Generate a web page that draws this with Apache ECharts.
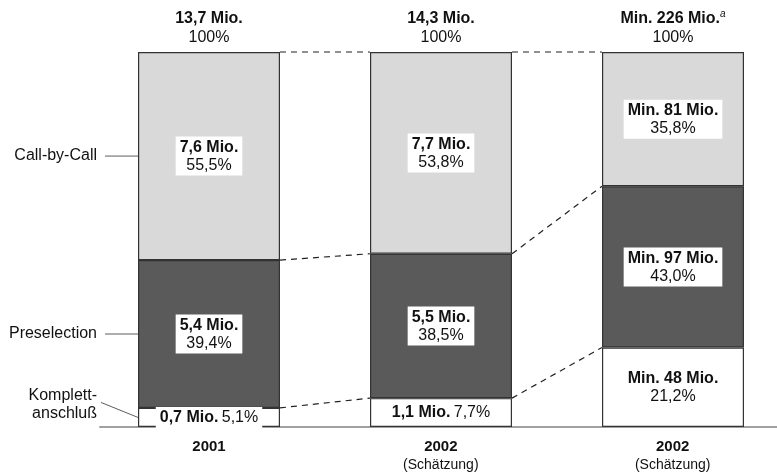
<!DOCTYPE html>
<html>
<head>
<meta charset="utf-8">
<script src="https://cdn.jsdelivr.net/npm/echarts@6/dist/echarts.min.js"></script>
<style>
  html, body { margin: 0; padding: 0; background: #fff; }
  #chart { width: 777px; height: 474px; }
</style>
</head>
<body>
<div id="chart"></div>
<script>
// Anschlussarten im Telefonmarkt: Anteile (%) und absolute Werte (Mio.)
const years = ['2001', '2002', '2002'];
const yearNotes = ['', '(Schätzung)', '(Schätzung)'];
const isMinimum = [false, false, true];

const totalMio = [13.7, 14.3, 226];
const totalFootnote = ['', '', 'a'];

const komplettShare = [5.1, 7.7, 21.2];
const komplettMio = [0.7, 1.1, 48];
const preselShare = [39.4, 38.5, 43.0];
const preselMio = [5.4, 5.5, 97];
const callShare = [55.5, 53.8, 35.8];
const callMio = [7.6, 7.7, 81];

const segmentNames = ['Komplett-\nanschluß', 'Preselection', 'Call-by-Call'];

const FONT = '"Liberation Sans", Arial, Helvetica, sans-serif';
const BAR_W = 142;

function de(v, digits) {
  return v.toFixed(digits).replace('.', ',');
}
function mioText(i, v) {
  return isMinimum[i] ? 'Min. ' + de(v, 0) + ' Mio.' : de(v, 1) + ' Mio.';
}
const slots = years.map((_, i) => i);

const richText = {
  b: { fontFamily: FONT, fontWeight: 'bold', fontSize: 16, lineHeight: 18, color: '#111' },
  p: { fontFamily: FONT, fontSize: 16, lineHeight: 18, color: '#111' }
};

function segmentLabel(shares, mios) {
  return {
    show: true,
    position: 'inside',
    backgroundColor: '#fff',
    padding: [2, 4, 1, 4],
    rich: richText,
    formatter: function (p) {
      const i = p.dataIndex;
      const m = mioText(i, mios[i]);
      const s = de(shares[i], 1) + '%';
      return shares[i] < 10 ? '{b|' + m + '} {p|' + s + '}' : '{b|' + m + '}\n{p|' + s + '}';
    }
  };
}

const barStyle = (color) => ({ color: color, borderColor: '#333', borderWidth: 1.2 });

// cumulative segment tops per bar: [Komplett, Preselection, gesamt]
const levels = years.map((_, i) => [
  komplettShare[i],
  komplettShare[i] + preselShare[i],
  komplettShare[i] + preselShare[i] + callShare[i]
]);
const connectorData = [];
for (let i = 0; i < years.length - 1; i++) {
  for (let k = 0; k < 3; k++) connectorData.push([i, levels[i][k], levels[i + 1][k]]);
}

// annotation anchors at the first bar: segment centres
const annotationData = [
  [0, komplettShare[0] / 2, 0],
  [0, komplettShare[0] + preselShare[0] / 2, 1],
  [0, komplettShare[0] + preselShare[0] + callShare[0] / 2, 2]
];

const chart = echarts.init(document.getElementById('chart'), null, { renderer: 'canvas' });

const barCommon = { type: 'bar', stack: 'a', barWidth: BAR_W, clip: false, xAxisIndex: 0, yAxisIndex: 0 };

chart.setOption({
  animation: false,
  backgroundColor: '#fff',
  grid: [
    // bar grid: category points sit at the bar centres
    { left: 209, right: 104, top: 52, bottom: 47 },
    // baseline grid spanning the full width, carries the year labels
    { left: 100, right: 0, top: 52, bottom: 47 }
  ],
  xAxis: [
    { type: 'category', gridIndex: 0, data: years, boundaryGap: false, show: false },
    {
      type: 'value', gridIndex: 1,
      min: -0.47, max: 2.45,
      splitLine: { show: false },
      axisLine: { show: true, onZero: false, lineStyle: { color: '#a0a0a0', width: 2 } },
      axisTick: { show: false },
      axisLabel: {
        customValues: slots,
        margin: 11,
        formatter: function (v) {
          const i = Math.round(v);
          return yearNotes[i] ? '{y|' + years[i] + '}\n{n|' + yearNotes[i] + '}' : '{y|' + years[i] + '}';
        },
        rich: {
          y: { fontFamily: FONT, fontWeight: 'bold', fontSize: 15, lineHeight: 18, color: '#111' },
          n: { fontFamily: FONT, fontSize: 14, lineHeight: 18, color: '#111' }
        }
      }
    }
  ],
  yAxis: [
    { type: 'value', gridIndex: 0, min: 0, max: 100, show: false },
    { type: 'value', gridIndex: 1, min: 0, max: 100, show: false }
  ],
  series: [
    Object.assign({
      name: 'Komplettanschluß', data: komplettShare, itemStyle: barStyle('#ffffff'),
      label: segmentLabel(komplettShare, komplettMio)
    }, barCommon),
    Object.assign({
      name: 'Preselection', data: preselShare, itemStyle: barStyle('#5a5a5a'),
      label: segmentLabel(preselShare, preselMio)
    }, barCommon),
    Object.assign({
      name: 'Call-by-Call', data: callShare, itemStyle: barStyle('#d9d9d9'),
      label: segmentLabel(callShare, callMio)
    }, barCommon),
    Object.assign({
      // totals above each bar
      name: 'Gesamt',
      data: years.map(() => 0),
      itemStyle: { color: 'rgba(0,0,0,0)', borderWidth: 0 },
      label: {
        show: true,
        position: 'top',
        distance: 5,
        formatter: function (p) {
          const i = p.dataIndex;
          const head = isMinimum[i] ? 'Min. ' + de(totalMio[i], 0) + ' Mio.' : de(totalMio[i], 1) + ' Mio.';
          const sup = totalFootnote[i] ? '{s|' + totalFootnote[i] + '}' : '';
          return '{b|' + head + '}' + sup + '\n{p|100%}';
        },
        rich: {
          b: { fontFamily: FONT, fontWeight: 'bold', fontSize: 16, lineHeight: 19, color: '#111' },
          p: { fontFamily: FONT, fontSize: 16, lineHeight: 19, color: '#111' },
          s: { fontFamily: FONT, fontStyle: 'italic', fontSize: 10, lineHeight: 10, verticalAlign: 'top', color: '#111' }
        }
      }
    }, barCommon),
    {
      // dashed connectors between segment boundaries of neighbouring bars
      name: 'Verbindung', type: 'custom', silent: true, z: 5, clip: false,
      xAxisIndex: 0, yAxisIndex: 0,
      data: connectorData,
      renderItem: function (params, api) {
        const i = api.value(0);
        const a = api.coord([i, api.value(1)]);
        const b = api.coord([i + 1, api.value(2)]);
        return {
          type: 'line',
          shape: { x1: a[0] + BAR_W / 2, y1: a[1], x2: b[0] - BAR_W / 2, y2: b[1] },
          style: { stroke: '#222', lineWidth: 1.2, lineDash: [6, 5] }
        };
      }
    },
    {
      // segment names with leader lines left of the first bar
      name: 'Beschriftung', type: 'custom', silent: true, z: 5, clip: false,
      xAxisIndex: 0, yAxisIndex: 0,
      data: annotationData,
      renderItem: function (params, api) {
        const p = api.coord([api.value(0), api.value(1)]);
        const k = api.value(2);
        const left = p[0] - BAR_W / 2;
        const textStyle = {
          text: segmentNames[k], align: 'right', verticalAlign: 'middle',
          fontFamily: FONT, fontSize: 16, lineHeight: 18, fill: '#111'
        };
        if (k === 0) {
          return {
            type: 'group',
            children: [
              { type: 'line', shape: { x1: left - 37, y1: p[1] - 15, x2: left, y2: p[1] },
                style: { stroke: '#333', lineWidth: 0.8 } },
              { type: 'text', style: Object.assign({ x: left - 41, y: p[1] - 13 }, textStyle) }
            ]
          };
        }
        return {
          type: 'group',
          children: [
            { type: 'line', shape: { x1: left - 33, y1: p[1], x2: left, y2: p[1] },
              style: { stroke: '#333', lineWidth: 0.8 } },
            { type: 'text', style: Object.assign({ x: left - 41, y: p[1] }, textStyle) }
          ]
        };
      }
    }
  ]
});
</script>
</body>
</html>
